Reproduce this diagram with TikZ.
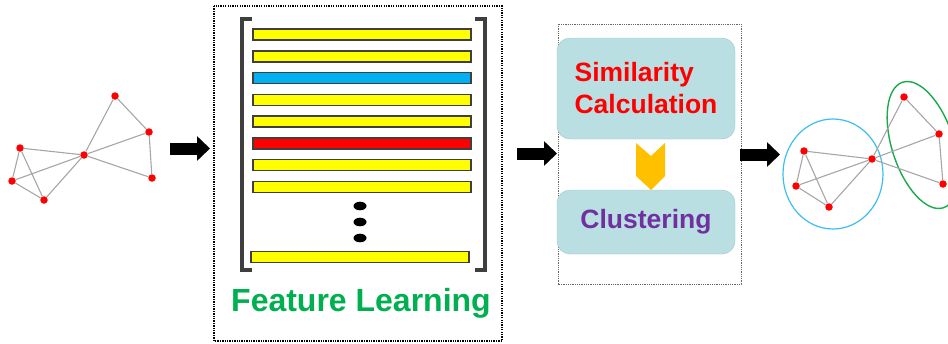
\documentclass[tikz,border=0pt]{standalone}
\usepackage{fontspec}
\setmainfont{Liberation Sans}
\usepackage{tikz}
\usetikzlibrary{arrows.meta}

\definecolor{barYellow}{HTML}{FFFF00}
\definecolor{barBlue}{HTML}{00B0F0}
\definecolor{barRed}{HTML}{FF0000}
\definecolor{barEdge}{HTML}{3F3F3F}
\definecolor{boxTeal}{HTML}{B9DFE2}
\definecolor{boxTealEdge}{HTML}{9CC6CA}
\definecolor{flGreen}{HTML}{00B050}
\definecolor{clPurple}{HTML}{7030A0}
\definecolor{chevGold}{HTML}{FFC000}
\definecolor{edgeGray}{HTML}{A6A6A6}
\definecolor{ringBlue}{HTML}{3CBFF0}
\definecolor{ringGreen}{HTML}{1AAA4A}

\tikzset{
    vtx/.style = {circle, fill=red, inner sep=0pt, minimum size=7.5pt},
    gedge/.style = {draw=edgeGray, line width=1.1pt},
    featbar/.style = {draw=barEdge, line width=1.3pt, minimum width=218pt, minimum height=11pt, inner sep=0pt},
    stagebox/.style = {draw=boxTealEdge, fill=boxTeal, rounded corners=13pt, minimum width=178pt, inner sep=0pt, font=\bfseries\fontsize{26.5}{32}\selectfont},
    blockarrow/.style = {line width=12pt, -{Triangle[length=13pt, width=24pt]}},
}

\begin{document}
\begin{tikzpicture}[x=1pt, y=-1pt]
    \useasboundingbox (0,0) rectangle (948,343);

    % input graph
    \node[vtx] (a) at (115,96) {};
    \node[vtx] (b) at (149,132) {};
    \node[vtx] (c) at (152,178) {};
    \node[vtx] (d) at (84,155) {};
    \node[vtx] (e) at (20,148) {};
    \node[vtx] (f) at (12,181) {};
    \node[vtx] (g) at (44,200) {};
    \draw[gedge] (a) -- (b) (b) -- (c) (a) -- (d) (b) -- (d) (c) -- (d)
                 (e) -- (d) (f) -- (d) (g) -- (d) (e) -- (f) (e) -- (g) (f) -- (g);

    \coordinate (arr1s) at (170,148.5);
    \coordinate (arr1e) at (210,148.5);
    \draw[blockarrow] (arr1s) -- (arr1e);

    % feature learning block
    \draw[line width=1.6pt, dash pattern=on 1.3pt off 1.1pt] (214,6) rectangle (502,341);
    \draw[barEdge, line width=4pt] (252,19) -- (242,19) -- (242,270) -- (252,270);
    \draw[barEdge, line width=4pt] (475,19) -- (485,19) -- (485,270) -- (475,270);
    \node[featbar, fill=barYellow] (bar1) at (362,34.5) {};
    \node[featbar, fill=barYellow] (bar2) at (362,56.5) {};
    \node[featbar, fill=barBlue]   (bar3) at (362,78) {};
    \node[featbar, fill=barYellow] (bar4) at (362,100) {};
    \node[featbar, fill=barYellow] (bar5) at (362,121.5) {};
    \node[featbar, fill=barRed]    (bar6) at (362,143.5) {};
    \node[featbar, fill=barYellow] (bar7) at (362,165) {};
    \node[featbar, fill=barYellow] (bar8) at (362,187) {};
    \fill (360,206) ellipse [x radius=6.5, y radius=4.3]
          (360,222) ellipse [x radius=6.5, y radius=4.3]
          (360,238) ellipse [x radius=6.5, y radius=4.3];
    \node[featbar, fill=barYellow] (bar9) at (360,257) {};
    \node[text=flGreen, font=\bfseries\fontsize{32}{36}\selectfont] (featlbl) at (361,303) {Feature Learning};

    \coordinate (arr2s) at (517,153.5);
    \coordinate (arr2e) at (557,153.5);
    \draw[blockarrow] (arr2s) -- (arr2e);

    % clustering block
    \draw[gray!80!black, line width=1pt, dash pattern=on 1pt off 0.8pt] (558,24) rectangle (741,284);
    \node[stagebox, minimum height=101pt, text=red, align=left] (simbox) at (646,88.5) {Similarity\\Calculation};
    \node[stagebox, minimum height=64pt, text=clPurple] (clubox) at (646,222) {Clustering};
    \fill[chevGold] (636,143) -- (651,156) -- (665,143) -- (665,176) -- (651,190) -- (636,176) -- cycle;

    \coordinate (arr3s) at (740,154.5);
    \coordinate (arr3e) at (780,154.5);
    \draw[blockarrow] (arr3s) -- (arr3e);

    % clustered graph
    \draw[ringBlue, line width=1.2pt] (833,174) ellipse [x radius=50, y radius=55];
    \draw[ringGreen, line width=1.4pt, rotate around={18:(923,145)}] (923,145) ellipse [x radius=31, y radius=66];
    \node[vtx] (a2) at (904,97) {};
    \node[vtx] (b2) at (939,134) {};
    \node[vtx] (c2) at (943,184) {};
    \node[vtx] (d2) at (872,159) {};
    \node[vtx] (e2) at (804,151) {};
    \node[vtx] (f2) at (796,186) {};
    \node[vtx] (g2) at (829,207) {};
    \draw[gedge] (a2) -- (b2) (b2) -- (c2) (a2) -- (d2) (b2) -- (d2) (c2) -- (d2)
                 (e2) -- (d2) (f2) -- (d2) (g2) -- (d2) (e2) -- (f2) (e2) -- (g2) (f2) -- (g2);
\end{tikzpicture}
\end{document}
